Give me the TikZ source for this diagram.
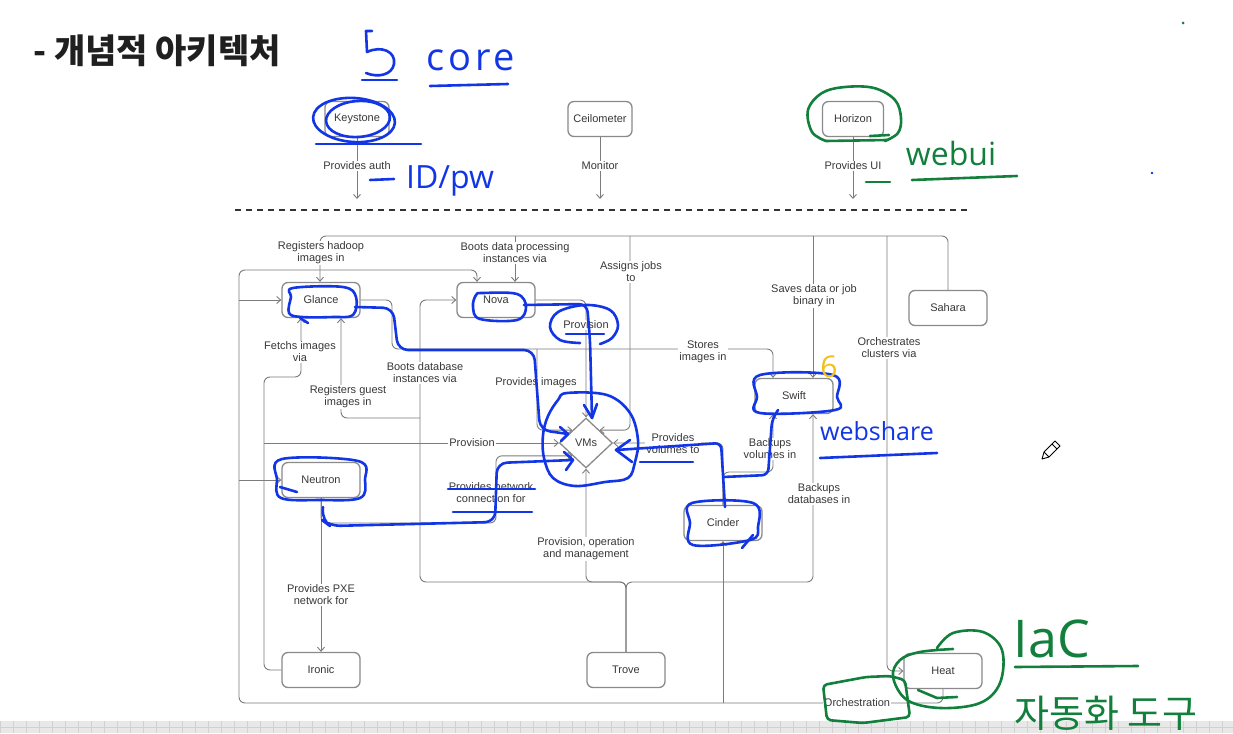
\documentclass[tikz,border=0pt]{standalone}
\usepackage{fontspec}
\setmainfont{Liberation Sans}
\newfontfamily\krfont{Noto Sans CJK KR}
\newfontfamily\handfont{Open Sans}
\usetikzlibrary{shapes.geometric,arrows.meta}
\definecolor{lnc}{HTML}{7C7C7C}
\definecolor{bxc}{HTML}{8A8A8A}
\definecolor{txc}{HTML}{383838}
\definecolor{inkblue}{HTML}{1236E6}
\definecolor{inkgreen}{HTML}{12803C}
\definecolor{inkyellow}{HTML}{F0C020}
\begin{document}
\begin{tikzpicture}[x=1pt,y=-1pt,
  cbox/.style={draw=bxc, line width=1.3pt, rounded corners=6pt, fill=white, minimum width=78pt, minimum height=35pt, inner sep=0pt, font=\fontsize{11}{13}\selectfont, text=txc},
  tbox/.style={cbox, minimum width=64pt},
  conn/.style={draw=lnc, line width=0.9pt, rounded corners=6pt},
  arr/.style={conn, -{Straight Barb[length=4pt,width=7pt]}},
  lbl/.style={fill=white, inner sep=1pt, font=\fontsize{11}{12}\selectfont, text=txc, align=center},
  inkb/.style={draw=inkblue, line width=2.6pt, line cap=round, line join=round},
  inkg/.style={draw=inkgreen, line width=2.6pt, line cap=round, line join=round},
  handb/.style={text=inkblue, inner sep=0pt, anchor=base},
  handg/.style={text=inkgreen, inner sep=0pt, anchor=base}]
\useasboundingbox (0,0) rectangle (1233,733);
\fill[white] (0,0) rectangle (1233,733);
% bottom band
\fill[black!9] (0,721) rectangle (1233,733);
\foreach \gx in {0,13,...,1233} \draw[black!18, line width=0.6pt] (\gx,721) -- (\gx,733);
\draw[black!18, line width=0.6pt] (0,727) -- (1233,727);

% title
\node[anchor=west, inner sep=0pt, text=black!88, font=\krfont\bfseries\fontsize{34}{36}\selectfont] (title) at (33,51) {- 개념적 아키텍처};

% top services
\node[tbox] (keystone) at (357,119) {Keystone};
\node[tbox] (ceilometer) at (600,119) {Ceilometer};
\node[tbox, minimum width=61pt] (horizon) at (853,119) {Horizon};
\coordinate (ka) at (357,199);
\coordinate (ca) at (600,199);
\coordinate (ha) at (853,199);
\draw[arr] (keystone.south) -- (ka);
\draw[arr] (ceilometer.south) -- (ca);
\draw[arr] (horizon.south) -- (ha);
\coordinate (dl) at (235,210);
\coordinate (dr) at (970,210);
\draw[black!80, line width=2pt, dash pattern=on 6pt off 5pt] (dl) -- (dr);

% main nodes
\node[cbox] (glance) at (321,300) {Glance};
\node[cbox] (nova) at (496,300) {Nova};
\node[cbox] (sahara) at (948,308) {Sahara};
\node[cbox] (swift) at (794,396) {Swift};
\node[cbox] (neutron) at (321,480) {Neutron};
\node[cbox] (cinder) at (723,523) {Cinder};
\node[cbox] (ironic) at (321,670) {Ironic};
\node[cbox] (trove) at (626,670) {Trove};
\node[cbox] (heat) at (943,671) {Heat};
\node[diamond, draw=bxc, line width=1.3pt, fill=white, minimum width=53pt, minimum height=50pt, inner sep=0pt, font=\fontsize{11}{13}\selectfont, text=txc] (vms) at (586,443) {VMs};

% Sahara
\coordinate (tR) at (948,236);
\coordinate (tL) at (320,236);
\coordinate (tN) at (515,236);
\coordinate (tA) at (630,236);
\coordinate (tS) at (813,236);
\coordinate (tH) at (887,236);
\draw[arr] (sahara.north) -- (tR) -- (tL) -- (tL |- glance.north);
\draw[arr] (tN) -- (tN |- nova.north);
\draw[arr] (tA) -- (tA |- vms.north east) -- (vms.north east);
\draw[arr] (tS) -- (tS |- swift.north);
\draw[arr] (tH) -- (tH |- heat.west) -- (heat.west);

% Heat
\coordinate (bL) at (239,703);
\coordinate (bT) at (239,270);
\coordinate (nT) at (477,270);
\draw[arr] (heat.south) -- (heat.south |- bL) -- (bL) -- (bT) -- (nT) -- (nT |- nova.north);
\draw[arr] (bL |- glance.west) -- (glance.west);
\draw[arr] (bL |- neutron.west) -- (neutron.west);
\draw[arr] (cinder.south |- bL) -- (cinder.south);

% Trove
\coordinate (tj) at (626,582);
\coordinate (dL) at (420,582);
\coordinate (gB) at (420,418);
\coordinate (gC) at (341,418);
\coordinate (sB) at (813,582);
\draw[arr] (trove.north) -- (tj) -- (vms.south |- tj) -- (vms.south);
\draw[arr] (trove.north) -- (tj) -- (dL) -- (dL |- nova.west) -- (nova.west);
\draw[arr] (gB) -- (gC) -- (gC |- glance.south);
\draw[arr] (trove.north) -- (tj) -- (sB) -- (sB |- swift.south);

% Ironic
\coordinate (iL) at (264,670);
\coordinate (iU) at (264,377);
\coordinate (iF) at (301,377);
\draw[arr] (ironic.west) -- (iL) -- (iU) -- (iF) -- (iF |- glance.south);
\draw[arr] (iL |- vms.west) -- (vms.west);

% Neutron
\coordinate (nB) at (321,523);
\coordinate (nR) at (496,523);
\draw[arr] (neutron.south) -- (ironic.north);
\draw[arr] (neutron.south) -- (nB) -- (nR) -- (nR |- vms.south west) -- (vms.south west);

% Glance
\coordinate (gR) at (392,300);
\coordinate (gD) at (392,349);
\coordinate (sT) at (773,349);
\coordinate (pI) at (537,349);
\draw[arr] (glance.east) -- (gR) -- (gD) -- (sT) -- (sT |- swift.north);
\draw[arr] (pI) -- (pI |- vms.north west) -- (vms.north west);

% Nova
\draw[arr] (nova.east) -- (vms.north |- nova.east) -- (vms.north);

% Cinder
\coordinate (cV) at (723,472);
\coordinate (cS) at (773,472);
\draw[arr] (cinder.north) -- (cinder.north |- vms.east) -- (vms.east);
\draw[arr] (cinder.north) -- (cV) -- (cS) -- (cS |- swift.south);

% labels
\node[lbl] at (357,166) {Provides auth};
\node[lbl] at (600,166) {Monitor};
\node[lbl] at (853,166) {Provides UI};
\node[lbl] at (321,253) {Registers hadoop\\images in};
\node[lbl] at (515,253) {Boots data processing\\instances via};
\node[lbl] at (631,272) {Assigns jobs\\to};
\node[lbl] at (814,296) {Saves data or job\\binary in};
\node[lbl] at (889,348) {Orchestrates\\clusters via};
\node[lbl] at (703,352) {Stores\\images in};
\node[lbl] at (300,352) {Fetchs images\\via};
\node[lbl] at (425,373) {Boots database\\instances via};
\node[lbl] at (348,397) {Registers guest\\images in};
\node[lbl] at (536,383) {Provides images};
\node[lbl] at (586,325) {Provision};
\node[lbl] at (472,443) {Provision};
\node[lbl] at (673,444) {Provides\\volumes to};
\node[lbl] at (770,449) {Backups\\volumes in};
\node[lbl] at (819,494) {Backups\\databases in};
\node[lbl] at (491,493) {Provides network\\connection for};
\node[lbl] at (586,549) {Provision, operation\\and management};
\node[lbl] at (321,595) {Provides PXE\\network for};
\node[lbl] at (857,703) {Orchestration};

% ===== blue handwriting =====
\draw[inkb] (372,31) -- (366,31) -- (367,52) .. controls (382,45) and (396,52) .. (394,64) .. controls (392,75) and (378,78) .. (366,73);
\draw[inkb] (362,80) -- (397,80);
\node[handb, font=\handfont\fontsize{38}{38}\selectfont\addfontfeatures{LetterSpace=10}] at (471,71) {core};
\draw[inkb] (430,86) -- (508,84);
% keystone
\draw[inkb, rotate around={-4:(354,120)}] (354,120) ellipse (41pt and 22pt);
\draw[inkb, rotate around={4:(358,119)}] (358,119) ellipse (32pt and 18pt);
\draw[inkb] (316,144) -- (421,144);
\draw[inkb] (370,180) -- (394,179);
\node[handb, font=\handfont\fontsize{32}{32}\selectfont] at (450,188) {ID/pw};
% glance
\draw[inkb] plot[smooth cycle, tension=0.6] coordinates {(293,288) (343,287) (356,297) (353,315) (333,317) (302,317) (289,313) (291,297)};
\draw[inkb] (300,318) -- (308,323);
\draw[inkb, rounded corners=10pt] (355,307) -- (393,308) -- (398,350) -- (534,350) -- (540,430) -- (568,434);
\draw[inkb] (560,427) -- (568,434) -- (561,441);
% nova
\draw[inkb] plot[smooth cycle, tension=0.6] coordinates {(483,293) (517,294) (526,307) (517,320) (480,319) (473,307) (476,295)};
\draw[inkb, rounded corners=8pt] (524,305) -- (587,304) -- (590,340) -- (592,418);
\draw[inkb] (584,405) -- (592,418) -- (597,404);
% provision
\draw[inkb] plot[smooth, tension=0.6] coordinates {(600,344) (612,338) (618,325) (610,310) (585,305) (558,312) (550,327) (560,340) (580,343)};
\draw[inkb] (566,334) -- (604,334);
% VMs
\draw[inkb] plot[smooth cycle, tension=0.6] coordinates {(567,393) (607,395) (630,413) (638,440) (635,462) (628,478) (605,482) (575,486) (553,478) (544,458) (543,435) (548,416) (558,400)};
% neutron
\draw[inkb] plot[smooth cycle, tension=0.6] coordinates {(282,459) (358,461) (365,480) (360,498) (320,500) (281,498) (277,480)};
\draw[inkb] (280,487) -- (297,492);
\draw[inkb, rounded corners=10pt] (323,507) -- (322,520) -- (330,526) -- (495,522) -- (497,463) -- (573,460);
\draw[inkb] (564,452) -- (573,460) -- (566,470);
\draw[inkb] (448,489) -- (535,489);
\draw[inkb] (453,512) -- (532,512);
% cinder
\draw[inkb] plot[smooth cycle, tension=0.6] coordinates {(692,503) (753,503) (758,527) (750,540) (693,545) (690,523)};
\draw[inkb] (742,548) -- (753,535);
\draw[inkb, rounded corners=6pt] (616,450) -- (721,443) -- (725,507);
\draw[inkb] (630,440) -- (616,450) -- (632,462);
\draw[inkb] (640,462) -- (693,462);
\draw[inkb, rounded corners=6pt] (723,477) -- (768,475) -- (772,420) -- (778,410);
% swift
\draw[inkb] plot[smooth cycle, tension=0.6] coordinates {(760,375) (833,375) (837,397) (835,410) (760,413) (757,397)};
\node[handb, font=\handfont\fontsize{25}{25}\selectfont] at (877,440) {webshare};
\draw[inkb] (820,458) -- (937,453);
\fill[inkblue] (1152,173) circle (1.3pt);

% ===== green / yellow handwriting =====
\draw[inkg] plot[smooth, tension=0.6] coordinates {(885,141) (898,133) (901,118) (895,100) (874,88) (845,87) (822,93) (808,110) (812,132) (826,141)};
\draw[inkg] (826,141) -- (887,140);
\draw[inkg] (870,136) -- (889,135);
\draw[inkg] (866,182) -- (890,182);
\node[handg, font=\handfont\fontsize{32}{32}\selectfont] at (951,165) {webui};
\draw[inkg] (912,180) -- (1017,176);
\fill[inkgreen] (1183,23) circle (1.5pt);
\node[anchor=base, inner sep=0pt, text=inkyellow, font=\handfont\fontsize{30}{30}\selectfont] at (829,377) {6};
% heat
\draw[inkg] plot[smooth, tension=0.6] coordinates {(937,648) (953,633) (983,632) (1002,650) (1000,683) (980,703) (940,708) (907,700) (893,677) (900,660) (920,652) (953,649)};
\draw[inkg] (918,690) -- (937,698) -- (957,697);
\draw[inkg, rounded corners=4pt] (823,685) -- (866,677) -- (890,676) -- (905,680) -- (910,717) -- (863,723) -- (827,720) -- cycle;
\node[handg, font=\handfont\fontsize{52}{52}\selectfont] at (1052,657) {IaC};
\draw[inkg] (1015,667) -- (1138,666);
\node[handg, font=\krfont\fontsize{38}{38}\selectfont] at (1106,727) {자동화 도구};

% pencil cursor
\draw[black, line width=0.9pt, line join=round] (1042,459) -- (1044,452) -- (1055,441) -- (1060,446) -- (1049,457) -- cycle;
\draw[black, line width=0.9pt] (1044,452) -- (1049,457);
\draw[black, line width=0.9pt] (1052,444) -- (1057,449);
\end{tikzpicture}
\end{document}
